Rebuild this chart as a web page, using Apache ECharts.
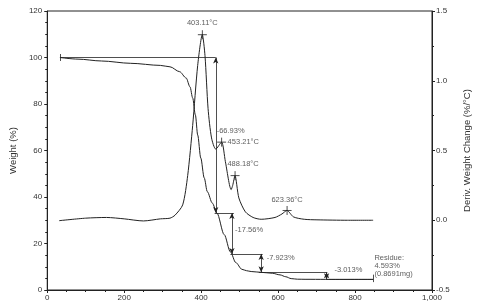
<!DOCTYPE html>
<html><head><meta charset="utf-8">
<script src="https://cdn.jsdelivr.net/npm/echarts@6/dist/echarts.min.js"></script>
<style>html,body{margin:0;padding:0;background:#fff}#c{width:480px;height:306px}</style>
</head><body><div id="c"></div>
<script>
// ---- data ----
const xTicks = [0, 200, 400, 600, 800, 1000];
const tgaTemp = [33, 80, 141, 217, 294, 319, 344, 361, 371, 378, 385, 391, 399, 408, 416, 429, 441, 460, 476, 490, 506, 518, 530, 556, 585, 605, 620, 634, 650, 670, 724, 847];
const tgaWeight = [100, 99.3, 98.5, 97.5, 96.6, 96.0, 93.9, 91.2, 87.4, 82.6, 75.3, 66.7, 56.8, 48.2, 42.3, 37.4, 33.1, 23.8, 16.4, 11.8, 8.9, 8.3, 7.95, 7.6, 7.2, 6.5, 5.7, 4.9, 4.65, 4.6, 4.58, 4.59];
const dtgTemp = [31, 100, 154, 200, 250, 294, 319, 332, 352, 365, 378, 391, 403, 410, 418, 427, 438, 453, 463, 478, 482, 488, 498, 515, 535, 556, 592, 610, 623, 640, 668, 701, 780, 847];
const dtgDeriv = [-0.003, 0.015, 0.02, 0.01, -0.005, 0.01, 0.015, 0.036, 0.11, 0.32, 0.68, 1.11, 1.33, 1.18, 0.80, 0.59, 0.51, 0.56, 0.42, 0.22, 0.25, 0.32, 0.16, 0.06, 0.02, 0.007, 0.02, 0.045, 0.07, 0.024, 0.007, 0.003, 0.0, 0.0];
const peakTemps = [403.11, 453.21, 488.18, 623.36];
const peakDeriv = [1.33, 0.56, 0.32, 0.07];
const peakLabels = ['403.11°C', '453.21°C', '488.18°C', '623.36°C'];
const stepLevels = [100, 33.07, 15.51, 7.587, 4.574];
const stepArrowTemps = [438, 480, 556, 726];
const stepLabels = ['-66.93%', '-17.56%', '-7.923%', '-3.013%'];
const residueTemp = 847;
const residueText = ['Residue:', '4.593%', '(0.8691mg)'];

// ---- build ----
const ink = '#222';
const txt = '#333';
const zip = (a, b) => a.map((v, i) => [v, b[i]]);

// horizontal step segments [from, to] in temperature
const hSeg = [[33, 438], [435, 485], [476, 560], [550, 728], [726, residueTemp]];
const ml = [];
hSeg.forEach((s, i) => ml.push([{coord: [s[0], stepLevels[i]], symbol: 'none'}, {coord: [s[1], stepLevels[i]], symbol: 'none'}]));
stepArrowTemps.forEach((t, i) => ml.push([{coord: [t, stepLevels[i]], symbol: 'arrow'}, {coord: [t, stepLevels[i + 1]], symbol: 'arrow'}]));
ml.push([{coord: [33, 101.5], symbol: 'none'}, {coord: [33, 98.5], symbol: 'none'}]);
ml.push([{coord: [residueTemp, 6.6], symbol: 'none'}, {coord: [residueTemp, 3.4], symbol: 'none'}]);

const stepLabelPos = [[439, 68.4], [487, 25.8], [569, 13.8], [745, 8.6]];
const lossLabels = stepLabels.map((s, i) => ({value: stepLabelPos[i], label: {formatter: s}}));
lossLabels.push({value: [849, 10.3], label: {formatter: residueText.join('\n'), lineHeight: 8}});

const peakLabelCfg = [
  {position: 'top', distance: 3},
  {position: 'right', distance: 1},
  {position: 'top', distance: 3, offset: [8, 0]},
  {position: 'top', distance: 2}
];

const chart = echarts.init(document.getElementById('c'), null, {renderer: 'canvas'});
chart.setOption({
  animation: false,
  backgroundColor: '#fff',
  grid: {left: 44, right: 43, top: 11, bottom: 16, show: true, borderColor: ink, borderWidth: 1},
  textStyle: {fontFamily: 'Liberation Sans, Arial, sans-serif'},
  xAxis: {
    type: 'value', min: 0, max: 1000, interval: 200,
    axisLine: {lineStyle: {color: ink}},
    axisTick: {show: true, length: 3, lineStyle: {color: ink}},
    minorTick: {show: true, splitNumber: 4, length: 2, lineStyle: {color: ink}},
    splitLine: {show: false},
    axisLabel: {color: txt, fontSize: 8, margin: 4}
  },
  yAxis: [{
    type: 'value', min: 0, max: 120, interval: 20, position: 'left',
    name: 'Weight (%)', nameLocation: 'middle', nameGap: 27, nameRotate: 90,
    nameTextStyle: {color: txt, fontSize: 9.5},
    axisLine: {show: true, lineStyle: {color: ink}},
    axisTick: {show: true, length: 3, lineStyle: {color: ink}},
    minorTick: {show: true, splitNumber: 4, length: 2, lineStyle: {color: ink}},
    splitLine: {show: false},
    axisLabel: {color: txt, fontSize: 8, margin: 5}
  }, {
    type: 'value', min: -0.5, max: 1.5, interval: 0.5, position: 'right',
    name: 'Deriv. Weight Change (%/°C)', nameLocation: 'middle', nameGap: 30, nameRotate: 90,
    nameTextStyle: {color: txt, fontSize: 9.5},
    axisLine: {show: true, lineStyle: {color: ink}},
    axisTick: {show: true, length: 3, lineStyle: {color: ink}},
    minorTick: {show: true, splitNumber: 2, length: 2, lineStyle: {color: ink}},
    splitLine: {show: false},
    axisLabel: {color: txt, fontSize: 8, margin: 4, formatter: v => v.toFixed(1)}
  }],
  series: [{
    type: 'line', yAxisIndex: 0, data: zip(tgaTemp, tgaWeight), showSymbol: false,
    smooth: 0.3, smoothMonotone: 'x', lineStyle: {color: ink, width: 1},
    markLine: {silent: true, symbolSize: [4, 6], label: {show: false},
      lineStyle: {color: ink, width: 0.8, type: 'solid'}, data: ml}
  }, {
    type: 'line', yAxisIndex: 1, data: zip(dtgTemp, dtgDeriv), showSymbol: false,
    smooth: 0.25, lineStyle: {color: ink, width: 1}
  }, {
    type: 'scatter', yAxisIndex: 1,
    data: peakTemps.map((t, i) => ({value: [t, peakDeriv[i]], label: Object.assign({show: true, formatter: peakLabels[i]}, peakLabelCfg[i])})),
    symbol: 'path://M0,5L10,5M5,0L5,10', symbolSize: 9,
    itemStyle: {color: 'rgba(0,0,0,0)', borderColor: ink, borderWidth: 1},
    label: {color: txt, fontSize: 7.5}
  }, {
    type: 'scatter', yAxisIndex: 0, data: lossLabels, symbolSize: 1,
    itemStyle: {color: 'rgba(0,0,0,0)'},
    label: {show: true, position: 'right', distance: 0, color: txt, fontSize: 7.5, align: 'left'}
  }]
});
</script></body></html>
